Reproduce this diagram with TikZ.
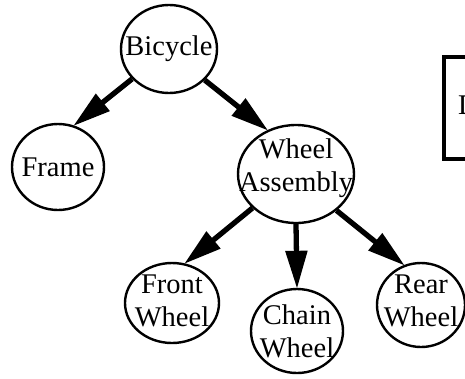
\documentclass[tikz,border=0pt]{standalone}
\usepackage{fontspec}
\setmainfont{Liberation Serif}
\usetikzlibrary{shapes.geometric,arrows.meta}
\begin{document}
\begin{tikzpicture}[x=1pt,y=-1pt,
  txt/.style={font=\fontsize{28.5}{33}\selectfont,align=center,inner sep=0pt},
  part/.style={draw,line width=2.4pt,ellipse,inner sep=0pt},
  link/.style={line width=5.3pt,-{Triangle[length=38pt,width=21pt]},shorten >=-1pt}]
\useasboundingbox (0,0) rectangle (465,378);
\clip (0,0) rectangle (465,378);
\node[part,minimum width=96pt,minimum height=88pt,
  label={[txt]center:Bicycle}] (bike) at (169,49) {};
\node[part,minimum width=92pt,minimum height=86pt,
  label={[txt]center:Frame}] (frame) at (58,167) {};
\node[part,minimum width=116pt,minimum height=98pt,
  label={[txt,yshift=6pt]center:Wheel\\Assembly}] (wa) at (296,174) {};
\node[part,minimum width=94pt,minimum height=80pt,
  label={[txt,yshift=2.5pt]center:Front\\Wheel}] (fw) at (172,303) {};
\node[part,minimum width=92pt,minimum height=84pt,
  label={[txt]center:Chain\\Wheel}] (cw) at (297,331) {};
\node[part,minimum width=88pt,minimum height=84pt,
  label={[txt,yshift=4.5pt]center:Rear\\Wheel}] (rw) at (421,305) {};
\draw[line width=4pt] (443.5,57) rectangle (480,158.5);
\node[txt,anchor=west] (d) at (458,105) {D};
\draw[link] (bike.219) -- (frame.69);
\draw[link] (bike.319) -- (wa.123);
\draw[link] (wa.218) -- (fw.72);
\draw[link] (wa.south) -- (cw.north);
\draw[link] (wa.318) -- (rw.113);
\end{tikzpicture}
\end{document}
